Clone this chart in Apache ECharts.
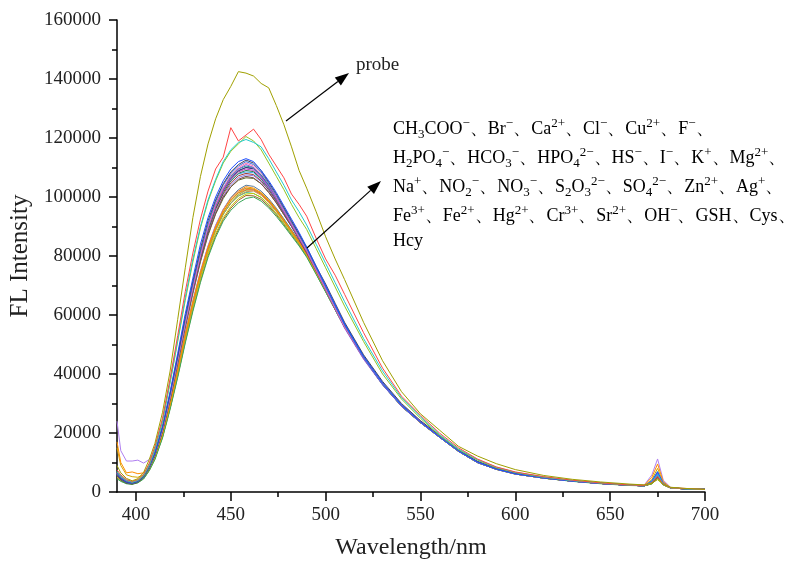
<!DOCTYPE html>
<html><head><meta charset="utf-8">
<script src="https://cdn.jsdelivr.net/npm/echarts@6/dist/echarts.min.js"></script>
<style>html,body{margin:0;padding:0;background:#fff}#c{width:803px;height:565px}</style>
</head><body><div id="c"></div>
<script>
// wavelength grid (nm)
const wavelength = [390,392,395,398,401,404,407,410,414,418,422,426,430,434,438,442,446,450,454,458,462,466,470,474,478,482,486,490,495,500,505,510,520,530,540,550,560,570,580,590,600,615,630,645,660,668,672,675,678,682,690,700];
// intensities are in thousands of counts
const unit = 1000;
const probe = [9,6.5,4.6,3.8,4.5,6.6,11,16.5,27,41,58.5,76,93,107,118,126.5,133,137.5,142.5,142,141,138.5,137,131,124.5,117,109,103,95,86.5,79,72,57.5,44.5,34,26.5,21,15.5,12.2,9.6,7.6,5.6,4.3,3.4,2.7,2.4,3,4.2,2.6,1.6,1.2,0.9];
const sA1 = [7.5,5.8,4.2,3.6,4.2,6,9.8,15.5,25,38.5,53,68,81,92.5,102,109.5,113.5,123.5,119,121,123,119.5,114.5,110.5,106.5,101,97.5,93.5,86,79,73.5,67,54,42,32.5,26,20,15,11.2,8.5,6.8,5.2,4,3.1,2.4,2.2,3.2,5.2,2.7,1.4,1.2,0.9];
const sA2 = [7,5.5,4,3.4,4,5.7,9.3,14.8,24.2,37.5,51.5,66,79,90,99,106,112,116,118.5,119.5,118.5,117,113,108.5,104,99,95,90.5,84,77.5,71,64.5,52,41,32,25.5,19.5,14.6,11,8.4,6.7,5.1,3.9,3.1,2.4,2.1,3.4,6,2.8,1.4,1.1,0.9];
const sA3 = [6.8,5.3,3.9,3.3,3.9,5.5,9,14.5,23.8,37,51,65,78,89.5,98.5,105.5,111.5,115.5,118,120.5,119,116,111.5,107,102.5,97.5,93,89,82.5,76,69.5,63,51,40,31.5,25,19.2,14.4,10.8,8.2,6.6,5,3.9,3,2.3,2.1,2.8,4.6,2.5,1.3,1.1,0.9];
const sB1 = [6.5,4.8,3.5,3.1,3.7,5.4,8.8,13.5,22.5,34,47,60.5,72.5,84,93,100,105.5,109.5,112,113,112,109,105.5,101.5,97,92.5,88,83,76.5,70,63.5,57,46,37,29.5,23.8,18.8,14,10.2,7.8,6.2,4.8,3.7,2.9,2.3,2.1,3.8,6.8,2.9,1.3,1.1,0.9];
const sB2 = [6,4.5,3.3,3,3.6,5.2,8.6,13.2,22,33.5,46,59.5,71.5,82.5,92,99,104.5,108.5,111,112.5,111.5,109,105,101,96.5,92,87.5,83,76.5,70.5,64,57.5,46.5,37.5,30,24.2,19.2,14.2,10.4,8,6.3,4.9,3.8,3,2.3,2.1,3,5.2,2.6,1.3,1.1,0.9];
const sB3 = [5.8,4.4,3.2,2.9,3.5,5,8.3,12.8,21.5,32.8,45.5,58.5,70.5,81.5,91,98.5,104,108,110.5,112,111,108.5,104.5,100.5,96,91.5,87,82.5,76,69.5,63,56.5,45.5,36.5,29.2,23.6,18.6,13.8,10,7.7,6.1,4.7,3.7,2.9,2.3,2.1,3.3,6.2,2.8,1.3,1.1,0.9];
const sB4 = [6.2,4.6,3.4,3.1,3.7,5.3,8.5,13,21.2,32.2,44.8,57.5,69.5,80.5,90,97.5,103,107.5,110,111.5,110.5,108,104.5,100,95.5,91,86.5,82,75.5,69,62.5,56,45.5,36.8,29.5,24,19,14,10.2,7.9,6.2,4.8,3.7,2.9,2.3,2.1,3,5.4,2.6,1.3,1.1,0.9];
const sB5 = [6.4,4.7,3.5,3.1,3.6,5.2,8.4,12.8,21,32,44.5,57,69,80,89.5,97,102.5,106.5,109.5,111,110,107,103.5,99.5,95,90.5,86,81.5,75,68.5,62,55.5,45,36.3,29,23.5,18.6,13.8,10,7.7,6.1,4.7,3.7,2.9,2.3,2.1,3.1,5.6,2.6,1.3,1.1,0.9];
const sB6 = [5.5,4.2,3.1,2.8,3.4,5,8.2,12.6,21,32,44.2,56.5,68,78.5,87.5,94.5,100,103.5,106,107,106.5,104.5,101.5,98,94,90,85.5,81,75,68.5,62,56,45.5,36.5,29.3,23.8,18.8,14,10.2,7.8,6.2,4.8,3.7,2.9,2.3,2.1,2.9,4.8,2.5,1.3,1.1,0.9];
const sB7 = [5.9,4.4,3.2,2.9,3.5,5.1,8.4,12.9,21.4,32.5,45,57.8,69.8,81,90.2,97.8,103,107,109.5,110.5,110,107.5,104,100,95.8,91.5,87,82.5,76,69.8,63.3,57,46,37,29.6,24,19,14.1,10.3,7.9,6.3,4.8,3.7,2.9,2.3,2.1,3.2,6,2.7,1.3,1.1,0.9];
const sB8 = [6.1,4.5,3.3,3,3.6,5.2,8.5,13.1,21.6,32.7,45.2,58,70,81,90,97.3,102.5,106.5,109,110,109.5,107,103.8,99.7,95.5,91.2,86.8,82.2,75.8,69.5,63,56.8,45.8,36.8,29.5,23.9,18.9,14,10.2,7.8,6.2,4.8,3.7,2.9,2.3,2.1,3,5.3,2.6,1.3,1.1,0.9];
const sB9 = [5.7,4.3,3.2,2.9,3.5,5.1,8.3,12.7,21,32,44.5,57.2,69.2,80.2,89.5,97,102.3,106.2,108.8,110,109.8,107.3,104,100.2,96,91.5,87.2,82.6,76.2,69.8,63.3,57,46,37,29.6,24,19,14.1,10.3,7.9,6.3,4.9,3.8,3,2.3,2.1,3.1,5.8,2.7,1.3,1.1,0.9];
const sB10 = [6.3,4.6,3.4,3,3.6,5.2,8.4,12.9,21.3,32.3,44.8,57.4,69.3,80.3,89.5,96.8,102,106,108.5,109.5,109,106.5,103.2,99.3,95,90.8,86.5,82,75.6,69.2,62.8,56.5,45.6,36.7,29.4,23.8,18.8,14,10.2,7.8,6.2,4.8,3.7,2.9,2.3,2.1,3.4,6.5,2.8,1.3,1.1,0.9];
const sB11 = [5.6,4.2,3.1,2.8,3.4,5,8.1,12.5,20.7,31.6,44,56.6,68.5,79.5,88.7,96.2,101.5,105.5,108,109,108.6,106.2,103,99,94.8,90.5,86.2,81.7,75.3,69,62.6,56.3,45.5,36.6,29.3,23.7,18.7,13.9,10.1,7.8,6.2,4.8,3.7,2.9,2.3,2.1,2.9,5,2.5,1.3,1.1,0.9];
const sB12 = [6.6,4.9,3.6,3.2,3.7,5.3,8.6,13.2,21.8,33,45.5,58,69.8,80.5,89.3,96.5,101.8,105.5,107.8,108.5,108.2,106,102.8,99,94.8,90.6,86.3,81.8,75.5,69.2,62.8,56.5,45.7,36.8,29.5,23.9,18.9,14,10.2,7.8,6.2,4.8,3.7,2.9,2.3,2.1,3.6,7,2.9,1.3,1.1,0.9];
const sB13 = [5.8,4.3,3.2,2.9,3.5,5.1,8.3,12.8,21.2,32.2,44.6,57,68.8,79.6,88.6,95.8,101,104.8,107.2,108,107.6,105.5,102.4,98.6,94.5,90.3,86,81.5,75.2,68.9,62.5,56.2,45.4,36.5,29.2,23.7,18.7,13.9,10.1,7.8,6.2,4.8,3.7,2.9,2.3,2.1,3,5.2,2.6,1.3,1.1,0.9];
const sB14 = [6,4.5,3.3,3,3.6,5.2,8.4,12.8,21,31.8,44,56.4,68,78.8,87.8,95,100.3,104.2,106.6,107.5,107.2,105.2,102.2,98.5,94.4,90.2,86,81.6,75.3,69,62.6,56.3,45.5,36.6,29.3,23.7,18.7,13.9,10.1,7.8,6.2,4.8,3.7,2.9,2.3,2.1,3.2,5.9,2.7,1.3,1.1,0.9];
const sB15 = [5.4,4.1,3,2.7,3.3,4.9,8,12.4,20.5,31.2,43.3,55.6,67.2,78,87,94.2,99.5,103.4,105.7,106.5,106.3,104.5,101.6,98,94,90,85.8,81.4,75.2,68.9,62.5,56.2,45.4,36.5,29.2,23.7,18.7,13.9,10.1,7.8,6.2,4.8,3.7,2.9,2.3,2.1,2.9,4.9,2.5,1.3,1.1,0.9];
const sC1 = [17,10,6.5,6.8,6.2,6.5,8.8,12.5,20,30,41.5,53.5,64.5,74.5,83,90,95.5,99.5,102,103.5,103,101.5,99,95.8,92.2,88.5,84.8,80.8,74.8,68.6,62.3,56.2,45.6,36.6,29.2,23.6,18.7,13.9,10.1,7.8,6.2,4.8,3.7,2.9,2.4,2.3,5,9.5,3.5,1.4,1.1,0.9];
const sC2 = [15,9,5.8,5.2,5,5.8,8.3,12,19.5,29.5,40.8,52.8,63.8,73.8,82.3,89.3,94.8,98.8,101.5,103,102.7,101.2,98.7,95.5,91.9,88.2,84.5,80.5,74.5,68.3,62,56,45.5,36.5,29.1,23.5,18.6,13.8,10,7.7,6.1,4.7,3.7,2.9,2.3,2.2,4.2,8,3.1,1.3,1.1,0.9];
const sC3 = [4.5,3.6,2.8,2.6,3.1,4.4,7.2,11,18.3,28,38.8,50.5,61.2,71,79.5,86.3,91.8,95.5,98,99.5,100,98.6,96.3,93.4,90.2,86.8,83.4,79.6,73.8,67.8,61.8,55.8,45.3,36.4,29,23.5,18.6,13.8,10,7.7,6.1,4.7,3.6,2.8,2.2,2.1,2.8,4.6,2.5,1.3,1.1,0.9];
const sC4 = [5.2,4.1,3.1,2.9,3.4,4.7,7.6,11.6,19.2,29.2,40.3,52.2,63.2,73.2,81.8,88.8,94.2,97.8,100.4,101.8,102,100.6,98,95,91.5,88,84.4,80.4,74.4,68.2,62,56,45.5,36.5,29.1,23.5,18.6,13.8,10,7.7,6.1,4.7,3.7,2.9,2.3,2.1,3,5.5,2.6,1.3,1.1,0.9];
const sC5 = [6.8,5,3.7,3.3,3.8,5,7.9,12,19.6,29.7,40.9,52.9,63.9,73.9,82.4,89.4,94.9,98.8,101.3,102.5,102.3,100.9,98.4,95.3,91.8,88.3,84.6,80.6,74.6,68.4,62.1,56.1,45.5,36.5,29.1,23.5,18.6,13.8,10,7.7,6.1,4.7,3.7,2.9,2.3,2.1,3.2,5.8,2.7,1.3,1.1,0.9];
const sC6 = [5,4,3,2.8,3.3,4.6,7.4,11.3,18.7,28.5,39.5,51.3,62.2,72.1,80.7,87.6,93,96.8,99.5,101,101.2,99.9,97.4,94.4,91,87.6,84.1,80.2,74.2,68.1,61.9,55.9,45.4,36.5,29.1,23.5,18.6,13.8,10,7.7,6.1,4.7,3.7,2.9,2.3,2.1,2.9,5.1,2.5,1.3,1.1,0.9];
const sC7 = [24,14,10.5,10.5,10.8,9.8,11,14,21,31,42,54,65,75,83.5,90.5,95.8,99.5,102,103,102.5,101,98.5,95.3,91.8,88.2,84.5,80.5,74.6,68.5,62.2,56.1,45.6,36.6,29.2,23.6,18.7,13.9,10.1,7.8,6.2,4.8,3.8,3,2.5,2.4,5.8,11.2,4,1.5,1.1,0.9];
const sC8 = [5.8,4.4,3.3,3,3.5,4.8,7.7,11.7,19.3,29.3,40.5,52.4,63.4,73.3,81.9,88.9,94.2,97.9,100.3,101.5,101.2,99.8,97.3,94.3,90.9,87.5,84,80.1,74.1,68,61.8,55.8,45.3,36.4,29,23.5,18.6,13.8,10,7.7,6.1,4.7,3.7,2.9,2.3,2.1,3.5,6.6,2.8,1.3,1.1,0.9];
const sC9 = [4.8,3.8,2.9,2.7,3.2,4.5,7.3,11.2,18.6,28.4,39.3,51,61.8,71.6,80.1,87,92.4,96.2,98.9,100.5,100.4,99.2,96.8,93.9,90.6,87.2,83.7,79.9,73.9,67.9,61.8,55.8,45.3,36.4,29,23.5,18.6,13.8,10,7.7,6.1,4.7,3.7,2.9,2.3,2.1,2.8,4.8,2.5,1.3,1.1,0.9];
const sC10 = [5.5,4.3,3.2,2.9,3.4,4.8,7.8,11.9,19.7,29.9,41.2,53.3,64.4,74.5,83.2,90.3,95.8,99.8,102.5,104,103.6,102,99.4,96.2,92.6,88.9,85.1,81.1,75,68.7,62.4,56.3,45.6,36.6,29.2,23.6,18.7,13.9,10.1,7.8,6.2,4.8,3.7,2.9,2.3,2.1,3.1,5.7,2.6,1.3,1.1,0.9];
const sC11 = [5.3,4.1,3.1,2.8,3.3,4.7,7.6,11.5,19,29,40.2,52,63,73,81.6,88.7,94.1,98,100.8,102.3,102.5,101.2,98.8,95.8,92.3,88.7,85,81,75,68.7,62.3,56.2,45.5,36.5,29.1,23.5,18.6,13.8,10,7.7,6.1,4.7,3.7,2.9,2.3,2.1,3,5.3,2.6,1.3,1.1,0.9];

const seriesNames = ['probe','CH3COO-','Br-','Ca2+','Cl-','Cu2+','F-','H2PO4-','HCO3-','HPO4 2-','HS-','I-','K+','Mg2+','Na+','NO2-','NO3-','S2O3 2-','SO4 2-','Zn2+','Ag+','Fe3+','Fe2+','Hg2+','Cr3+','Sr2+','OH-','GSH','Cys','Hcy'];
const seriesValues = [probe,sA1,sA2,sA3,sB1,sB2,sB3,sB4,sB5,sB6,sB7,sB8,sB9,sB10,sB11,sB12,sB13,sB14,sB15,sC1,sC2,sC3,sC4,sC5,sC6,sC7,sC8,sC9,sC10,sC11];

const xTickLabels = [400,450,500,550,600,650,700];
const xMinorTicks = [425,475,525,575,625,675];
const annotationLines = [
  [['n','CH'],['sb','3'],['n','COO'],['sp','−'],['n','、Br'],['sp','−'],['n','、Ca'],['sp','2+'],['n','、Cl'],['sp','−'],['n','、Cu'],['sp','2+'],['n','、F'],['sp','−'],['n','、']],
  [['n','H'],['sb','2'],['n','PO'],['sb','4'],['sp','−'],['n','、HCO'],['sb','3'],['sp','−'],['n','、HPO'],['sb','4'],['sp','2−'],['n','、HS'],['sp','−'],['n','、I'],['sp','−'],['n','、K'],['sp','+'],['n','、Mg'],['sp','2+'],['n','、']],
  [['n','Na'],['sp','+'],['n','、NO'],['sb','2'],['sp','−'],['n','、NO'],['sb','3'],['sp','−'],['n','、S'],['sb','2'],['n','O'],['sb','3'],['sp','2−'],['n','、SO'],['sb','4'],['sp','2−'],['n','、Zn'],['sp','2+'],['n','、Ag'],['sp','+'],['n','、']],
  [['n','Fe'],['sp','3+'],['n','、Fe'],['sp','2+'],['n','、Hg'],['sp','2+'],['n','、Cr'],['sp','3+'],['n','、Sr'],['sp','2+'],['n','、OH'],['sp','−'],['n','、GSH、Cys、']],
  [['n','Hcy']]
];
const probeLabel = 'probe';

// ---- styling ----
const colors = ['#a0a000','#ff4545','#22cccc','#92c420','#1f4fff','#454560','#3a78e0','#ff70b0','#9a5ad8','#7a4a4a','#1a9a9a','#30308a','#6a6a6a','#c83cc8','#2a7a4a','#3aa8e8','#a03c3c','#8a7ae8','#5a6a2a','#ff8c00','#d4a500','#3aa85a','#c8965a','#ff6020','#c8c800','#b07ff0','#2ab88a','#a0602a','#5a7a9a','#6fbf3f'];
const FONT = '"Liberation Serif", serif';
const TXT = '#222';

const series = [];
for (let i = seriesValues.length - 1; i >= 0; i--) {
  series.push({
    name: seriesNames[i], type: 'line', xAxisIndex: 0, yAxisIndex: 0,
    data: wavelength.map((w, k) => [w, seriesValues[i][k] * unit]),
    showSymbol: false, symbol: 'none', smooth: false,
    lineStyle: { width: 1, color: colors[i] }, itemStyle: { color: colors[i] },
    animation: false, z: 2
  });
}

function arrow(x1, y1, x2, y2) {
  const a = Math.atan2(y2 - y1, x2 - x1), L = 14, W = 5;
  const c = Math.cos(a), s = Math.sin(a);
  const bx = x2 - L * c, by = y2 - L * s;
  return [
    { type: 'line', shape: { x1, y1, x2: bx, y2: by }, style: { stroke: '#000', lineWidth: 1.2 }, z: 10 },
    { type: 'polygon', shape: { points: [[x2, y2], [bx - s * W, by + c * W], [bx + s * W, by - c * W]] }, style: { fill: '#000' }, z: 10 }
  ];
}

const rich = {
  n: { fontSize: 18, fontFamily: FONT, color: TXT, lineHeight: 24, verticalAlign: 'middle' },
  sb: { fontSize: 13, fontFamily: FONT, color: TXT, lineHeight: 14, verticalAlign: 'bottom' },
  sp: { fontSize: 13, fontFamily: FONT, color: TXT, lineHeight: 14, verticalAlign: 'top' }
};
const lineY = [129, 158, 187, 216, 241];
const graphics = [];
annotationLines.forEach((parts, i) => {
  graphics.push({
    type: 'text', x: 393, y: lineY[i], z: 10,
    style: { text: parts.map(p => '{' + p[0] + '|' + p[1] + '}').join(''), rich, verticalAlign: 'middle', align: 'left' }
  });
});
graphics.push({ type: 'text', x: 356, y: 65, z: 10, style: { text: probeLabel, font: '19px ' + FONT, fill: TXT, verticalAlign: 'middle' } });
graphics.push(...arrow(286, 121, 349, 73));
graphics.push(...arrow(307, 248, 381, 181));

const axisLineStyle = { color: '#000', width: 1.5 };
const option = {
  backgroundColor: '#fff',
  animation: false,
  grid: { left: 117, right: 98, top: 20, bottom: 72, containLabel: false },
  xAxis: [
    {
      type: 'value', min: 390, max: 700, position: 'bottom',
      axisLine: { show: true, onZero: false, lineStyle: axisLineStyle },
      axisTick: { show: true, customValues: xTickLabels, length: 9, lineStyle: axisLineStyle },
      axisLabel: { customValues: xTickLabels, margin: 14, color: TXT, fontSize: 19, fontFamily: FONT },
      splitLine: { show: false },
      name: 'Wavelength/nm', nameLocation: 'middle', nameGap: 44,
      nameTextStyle: { fontSize: 24, fontFamily: FONT, color: TXT }
    },
    {
      type: 'value', min: 390, max: 700, position: 'bottom', offset: 0,
      axisLine: { show: false, onZero: false },
      axisTick: { show: true, customValues: xMinorTicks, length: 5, lineStyle: axisLineStyle },
      axisLabel: { show: false }, splitLine: { show: false }
    }
  ],
  yAxis: {
    type: 'value', min: 0, max: 160000, interval: 20000,
    axisLine: { show: true, onZero: false, lineStyle: axisLineStyle },
    axisTick: { show: true, length: 8, lineStyle: axisLineStyle },
    minorTick: { show: true, splitNumber: 2, length: 5, lineStyle: axisLineStyle },
    axisLabel: { margin: 16, color: TXT, fontSize: 19, fontFamily: FONT, formatter: v => String(v) },
    splitLine: { show: false }, minorSplitLine: { show: false },
    name: 'FL Intensity', nameLocation: 'middle', nameGap: 84, nameRotate: 90,
    nameTextStyle: { fontSize: 25, fontFamily: FONT, color: TXT }
  },
  series,
  graphic: graphics
};
const chart = echarts.init(document.getElementById('c'), null, { renderer: 'canvas' });
chart.setOption(option);
</script></body></html>
